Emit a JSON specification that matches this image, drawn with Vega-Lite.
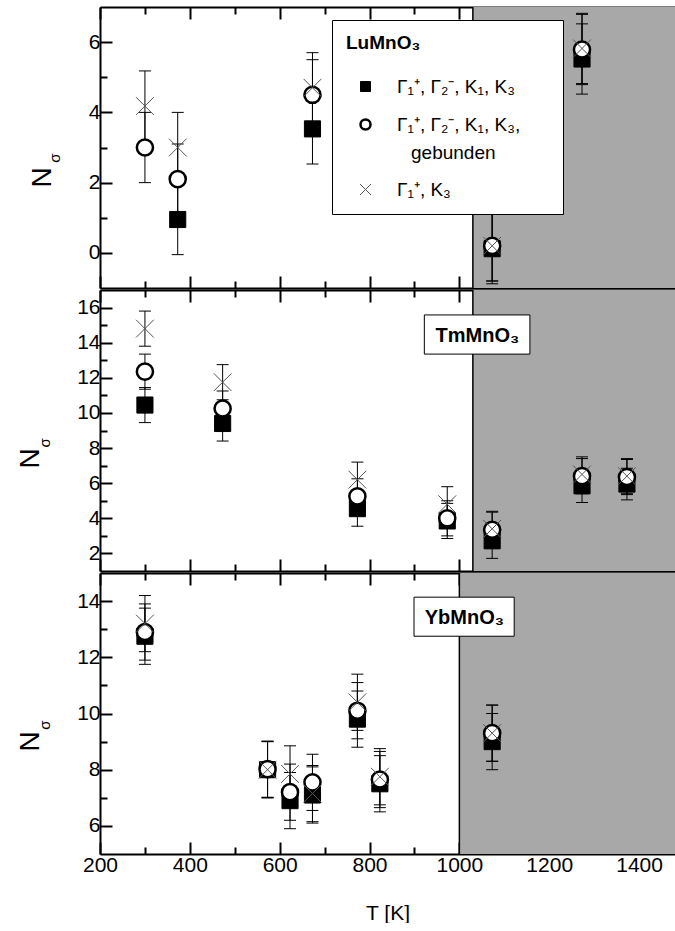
{
  "$schema": "https://vega.github.io/schema/vega-lite/v6.json",
  "padding": {"left": 16, "top": 6, "right": 0, "bottom": 0},
  "background": "white",
  "spacing": 0,
  "config": {
    "font": "Liberation Sans",
    "view": {"stroke": null},
    "concat": {"spacing": 0},
    "style": {"guide-label": {"lineHeight": 28}},
    "legend": {"titleFont": "Liberation Sans", "titleFontSize": 19, "titleFontWeight": "bold", "titleColor": "black", "labelFont": "Liberation Sans", "labelFontSize": 19, "labelColor": "black"},
    "axis": {"domainColor": "black", "domainWidth": 2, "tickColor": "black", "tickWidth": 2, "labelFont": "Liberation Sans", "labelFontSize": 21, "labelColor": "black", "labelPadding": 12, "titleFont": "Liberation Sans", "titleColor": "black", "titleFontWeight": "normal", "grid": false, "zindex": 1, "labelOverlap": false, "labelFlush": false}
  },
  "datasets": {
    "one": [{}],
    "lu": [
      {"T": 373, "s": "sq", "v": 0.95, "lo": -0.05, "hi": 1.95},
      {"T": 673, "s": "sq", "v": 3.53, "lo": 2.53, "hi": 4.53},
      {"T": 1073, "s": "sq", "v": 0.12, "lo": -0.88, "hi": 1.12},
      {"T": 1273, "s": "sq", "v": 5.52, "lo": 4.52, "hi": 6.52},
      {"T": 300, "s": "ci", "v": 3.0, "lo": 2.0, "hi": 4.0},
      {"T": 373, "s": "ci", "v": 2.1, "lo": 1.1, "hi": 3.1},
      {"T": 673, "s": "ci", "v": 4.5, "lo": 3.5, "hi": 5.5},
      {"T": 1073, "s": "ci", "v": 0.2, "lo": -0.8, "hi": 1.2},
      {"T": 1273, "s": "ci", "v": 5.79, "lo": 4.79, "hi": 6.79},
      {"T": 300, "s": "x", "v": 4.18, "lo": 3.18, "hi": 5.18},
      {"T": 373, "s": "x", "v": 3.0, "lo": 2.0, "hi": 4.0},
      {"T": 673, "s": "x", "v": 4.7, "lo": 3.7, "hi": 5.7},
      {"T": 1073, "s": "x", "v": 0.2, "lo": -0.8, "hi": 1.2},
      {"T": 1273, "s": "x", "v": 5.82, "lo": 4.82, "hi": 6.82}
    ],
    "tm": [
      {"T": 300, "s": "sq", "v": 10.45, "lo": 9.45, "hi": 11.45},
      {"T": 473, "s": "sq", "v": 9.4, "lo": 8.4, "hi": 10.4},
      {"T": 773, "s": "sq", "v": 4.55, "lo": 3.55, "hi": 5.55},
      {"T": 973, "s": "sq", "v": 3.85, "lo": 2.85, "hi": 4.85},
      {"T": 1073, "s": "sq", "v": 2.72, "lo": 1.72, "hi": 3.72},
      {"T": 1273, "s": "sq", "v": 5.85, "lo": 4.9, "hi": 6.8},
      {"T": 1373, "s": "sq", "v": 5.95, "lo": 5.05, "hi": 6.85},
      {"T": 300, "s": "ci", "v": 12.35, "lo": 11.35, "hi": 13.35},
      {"T": 473, "s": "ci", "v": 10.25, "lo": 9.25, "hi": 11.25},
      {"T": 773, "s": "ci", "v": 5.25, "lo": 4.25, "hi": 6.25},
      {"T": 973, "s": "ci", "v": 4.0, "lo": 3.0, "hi": 5.0},
      {"T": 1073, "s": "ci", "v": 3.35, "lo": 2.35, "hi": 4.35},
      {"T": 1273, "s": "ci", "v": 6.4, "lo": 5.4, "hi": 7.4},
      {"T": 1373, "s": "ci", "v": 6.35, "lo": 5.35, "hi": 7.35},
      {"T": 300, "s": "x", "v": 14.8, "lo": 13.8, "hi": 15.8},
      {"T": 473, "s": "x", "v": 11.75, "lo": 10.75, "hi": 12.75},
      {"T": 773, "s": "x", "v": 6.2, "lo": 5.2, "hi": 7.2},
      {"T": 973, "s": "x", "v": 4.8, "lo": 3.8, "hi": 5.8},
      {"T": 1073, "s": "x", "v": 3.4, "lo": 2.4, "hi": 4.4},
      {"T": 1273, "s": "x", "v": 6.5, "lo": 5.5, "hi": 7.5},
      {"T": 1373, "s": "x", "v": 6.4, "lo": 5.4, "hi": 7.4}
    ],
    "yb": [
      {"T": 300, "s": "sq", "v": 12.75, "lo": 11.75, "hi": 13.75},
      {"T": 573, "s": "sq", "v": 8.0, "lo": 7.0, "hi": 9.0},
      {"T": 623, "s": "sq", "v": 6.9, "lo": 5.9, "hi": 7.9},
      {"T": 673, "s": "sq", "v": 7.1, "lo": 6.1, "hi": 8.1},
      {"T": 773, "s": "sq", "v": 9.8, "lo": 8.8, "hi": 10.8},
      {"T": 823, "s": "sq", "v": 7.5, "lo": 6.5, "hi": 8.5},
      {"T": 1073, "s": "sq", "v": 9.0, "lo": 8.0, "hi": 10.0},
      {"T": 300, "s": "ci", "v": 12.9, "lo": 11.9, "hi": 13.9},
      {"T": 573, "s": "ci", "v": 8.02, "lo": 7.02, "hi": 9.02},
      {"T": 623, "s": "ci", "v": 7.2, "lo": 6.2, "hi": 8.2},
      {"T": 673, "s": "ci", "v": 7.55, "lo": 6.55, "hi": 8.55},
      {"T": 773, "s": "ci", "v": 10.1, "lo": 9.1, "hi": 11.1},
      {"T": 823, "s": "ci", "v": 7.65, "lo": 6.65, "hi": 8.65},
      {"T": 1073, "s": "ci", "v": 9.3, "lo": 8.3, "hi": 10.3},
      {"T": 300, "s": "x", "v": 13.2, "lo": 12.2, "hi": 14.2},
      {"T": 573, "s": "x", "v": 8.0, "lo": 7.0, "hi": 9.0},
      {"T": 623, "s": "x", "v": 7.85, "lo": 6.85, "hi": 8.85},
      {"T": 673, "s": "x", "v": 7.15, "lo": 6.15, "hi": 8.15},
      {"T": 773, "s": "x", "v": 10.4, "lo": 9.4, "hi": 11.4},
      {"T": 823, "s": "x", "v": 7.75, "lo": 6.75, "hi": 8.75},
      {"T": 1073, "s": "x", "v": 9.3, "lo": 8.3, "hi": 10.3}
    ]
  },
  "resolve": {"scale": {"shape": "independent", "fill": "independent", "stroke": "independent", "strokeWidth": "independent"}},
  "vconcat": [
    {
      "width": 575, "height": 281,
      "resolve": {"axis": {"x": "independent", "y": "independent"}},
      "layer": [
        {"data": {"name": "one"}, "mark": {"type": "rect", "fill": "#a8a8a8"},
         "encoding": {"x": {"datum": 1030, "type": "quantitative", "scale": {"domain": [200, 1480], "nice": false, "zero": false}, "axis": null}, "x2": {"datum": 1480}, "y": {"datum": -1, "type": "quantitative", "scale": {"domain": [-1, 7], "nice": false, "zero": false}, "axis": null}, "y2": {"datum": 7}}},
        {"data": {"name": "one"}, "mark": {"type": "rule", "color": "black", "strokeWidth": 1.5},
         "encoding": {"x": {"datum": 1030, "type": "quantitative", "scale": {"domain": [200, 1480], "nice": false, "zero": false}, "axis": null}}},
        {"data": {"name": "lu"}, "mark": {"type": "rule", "color": "black", "strokeWidth": 1},
         "encoding": {
           "x": {"field": "T", "type": "quantitative", "scale": {"domain": [200, 1480], "nice": false, "zero": false}, "axis": {"orient": "top", "values": [200, 300, 400, 500, 600, 700, 800, 900, 1000, 1100, 1200, 1300, 1400], "labels": false, "title": null, "tickSize": {"condition": {"test": "datum.value % 200 === 0", "value": -12}, "value": -7}}},
           "y": {"field": "lo", "type": "quantitative", "scale": {"domain": [-1, 7], "nice": false, "zero": false}, "axis": {"orient": "right", "domain": false, "values": [0, 1, 2, 3, 4, 5, 6], "labels": false, "title": null, "tickSize": {"condition": {"test": "datum.value % 2 === 0", "value": -12}, "value": -7}}},
           "y2": {"field": "hi"}}},
        {"data": {"name": "lu"}, "mark": {"type": "tick", "orient": "horizontal", "color": "black", "size": 12, "thickness": 1, "opacity": 1},
         "encoding": {"x": {"field": "T", "type": "quantitative", "scale": {"domain": [200, 1480], "nice": false, "zero": false}, "axis": null}, "y": {"field": "lo", "type": "quantitative", "scale": {"domain": [-1, 7], "nice": false, "zero": false}, "axis": null}}},
        {"data": {"name": "lu"}, "mark": {"type": "tick", "orient": "horizontal", "color": "black", "size": 12, "thickness": 1, "opacity": 1},
         "encoding": {"x": {"field": "T", "type": "quantitative", "scale": {"domain": [200, 1480], "nice": false, "zero": false}, "axis": null}, "y": {"field": "hi", "type": "quantitative", "scale": {"domain": [-1, 7], "nice": false, "zero": false}, "axis": null}}},
        {"data": {"name": "lu"}, "mark": {"type": "point", "size": 260, "opacity": 1},
         "encoding": {
           "x": {"field": "T", "type": "quantitative", "scale": {"domain": [200, 1480], "nice": false, "zero": false}, "axis": {"orient": "bottom", "values": [200, 300, 400, 500, 600, 700, 800, 900, 1000, 1100, 1200, 1300, 1400], "labels": false, "title": null, "tickSize": {"condition": {"test": "datum.value % 200 === 0", "value": -12}, "value": -7}}},
           "y": {"field": "v", "type": "quantitative", "scale": {"domain": [-1, 7], "nice": false, "zero": false}, "axis": {"orient": "left", "values": [0, 1, 2, 3, 4, 5, 6], "format": "d", "labelExpr": "datum.value % 2 === 0 ? datum.label : ''", "title": "N", "titleFontSize": 28, "titlePadding": 32, "titleY": 170, "tickSize": {"condition": {"test": "datum.value % 2 === 0", "value": -12}, "value": -7}}},
           "shape": {"field": "s", "type": "nominal", "scale": {"domain": ["sq", "ci", "x"], "range": ["square", "circle", "M-1.1,-1.1L1.1,1.1M-1.1,1.1L1.1,-1.1"]},
             "legend": {"title": "LuMnO₃", "orient": "none", "legendX": 232, "legendY": 13, "titleFont": "Liberation Sans", "titleFontSize": 19, "titleFontWeight": "bold", "titleColor": "black", "titlePadding": 24, "labelFont": "Liberation Sans", "labelFontSize": 19, "labelColor": "black", "labelLimit": 400, "labelExpr": "datum.value === 'sq' ? 'Γ₁⁺, Γ₂⁻, K₁, K₃' : datum.value === 'ci' ? ['Γ₁⁺, Γ₂⁻, K₁, K₃,\u2800\u2800', '\u2800gebunden'] : 'Γ₁⁺, K₃'", "fillColor": "white", "strokeColor": "black", "padding": 14, "symbolSize": 100, "symbolOffset": 10, "labelOffset": 22, "rowPadding": 17, "cornerRadius": 0}},
           "fill": {"field": "s", "type": "nominal", "scale": {"domain": ["sq", "ci", "x"], "range": ["black", "white", "transparent"]}},
           "stroke": {"field": "s", "type": "nominal", "scale": {"domain": ["sq", "ci", "x"], "range": ["black", "black", "#555555"]}},
           "strokeWidth": {"field": "s", "type": "nominal", "scale": {"type": "ordinal", "domain": ["sq", "ci", "x"], "range": [1, 2.5, 1]}}}},
        {"data": {"name": "one"}, "mark": {"type": "text", "text": "σ", "angle": 270, "fontSize": 15, "font": "Liberation Sans", "color": "black", "align": "center", "baseline": "middle"},
         "encoding": {"x": {"datum": 99.8, "type": "quantitative", "scale": {"domain": [200, 1480], "nice": false, "zero": false}, "axis": null}, "y": {"datum": 2.7, "type": "quantitative", "scale": {"domain": [-1, 7], "nice": false, "zero": false}, "axis": null}}}
      ]
    },
    {
      "width": 575, "height": 281,
      "resolve": {"axis": {"x": "independent", "y": "independent"}},
      "layer": [
        {"data": {"name": "one"}, "mark": {"type": "rect", "fill": "#a8a8a8"},
         "encoding": {"x": {"datum": 1030, "type": "quantitative", "scale": {"domain": [200, 1480], "nice": false, "zero": false}, "axis": null}, "x2": {"datum": 1480}, "y": {"datum": 1, "type": "quantitative", "scale": {"domain": [1, 17], "nice": false, "zero": false}, "axis": null}, "y2": {"datum": 17}}},
        {"data": {"name": "one"}, "mark": {"type": "rule", "color": "black", "strokeWidth": 1.5},
         "encoding": {"x": {"datum": 1030, "type": "quantitative", "scale": {"domain": [200, 1480], "nice": false, "zero": false}, "axis": null}}},
        {"data": {"name": "tm"}, "mark": {"type": "rule", "color": "black", "strokeWidth": 1},
         "encoding": {
           "x": {"field": "T", "type": "quantitative", "scale": {"domain": [200, 1480], "nice": false, "zero": false}, "axis": {"orient": "top", "values": [200, 300, 400, 500, 600, 700, 800, 900, 1000, 1100, 1200, 1300, 1400], "labels": false, "title": null, "tickSize": {"condition": {"test": "datum.value % 200 === 0", "value": -12}, "value": -7}}},
           "y": {"field": "lo", "type": "quantitative", "scale": {"domain": [1, 17], "nice": false, "zero": false}, "axis": {"orient": "right", "domain": false, "values": [2, 3, 4, 5, 6, 7, 8, 9, 10, 11, 12, 13, 14, 15, 16], "labels": false, "title": null, "tickSize": {"condition": {"test": "datum.value % 2 === 0", "value": -12}, "value": -7}}},
           "y2": {"field": "hi"}}},
        {"data": {"name": "tm"}, "mark": {"type": "tick", "orient": "horizontal", "color": "black", "size": 12, "thickness": 1, "opacity": 1},
         "encoding": {"x": {"field": "T", "type": "quantitative", "scale": {"domain": [200, 1480], "nice": false, "zero": false}, "axis": null}, "y": {"field": "lo", "type": "quantitative", "scale": {"domain": [1, 17], "nice": false, "zero": false}, "axis": null}}},
        {"data": {"name": "tm"}, "mark": {"type": "tick", "orient": "horizontal", "color": "black", "size": 12, "thickness": 1, "opacity": 1},
         "encoding": {"x": {"field": "T", "type": "quantitative", "scale": {"domain": [200, 1480], "nice": false, "zero": false}, "axis": null}, "y": {"field": "hi", "type": "quantitative", "scale": {"domain": [1, 17], "nice": false, "zero": false}, "axis": null}}},
        {"data": {"name": "tm"}, "mark": {"type": "point", "size": 260, "opacity": 1},
         "encoding": {
           "x": {"field": "T", "type": "quantitative", "scale": {"domain": [200, 1480], "nice": false, "zero": false}, "axis": {"orient": "bottom", "values": [200, 300, 400, 500, 600, 700, 800, 900, 1000, 1100, 1200, 1300, 1400], "labels": false, "title": null, "tickSize": {"condition": {"test": "datum.value % 200 === 0", "value": -12}, "value": -7}}},
           "y": {"field": "v", "type": "quantitative", "scale": {"domain": [1, 17], "nice": false, "zero": false}, "axis": {"orient": "left", "values": [2, 3, 4, 5, 6, 7, 8, 9, 10, 11, 12, 13, 14, 15, 16], "format": "d", "labelExpr": "datum.value % 2 === 0 ? datum.label : ''", "title": "N", "titleFontSize": 28, "titlePadding": 32, "titleY": 168, "tickSize": {"condition": {"test": "datum.value % 2 === 0", "value": -12}, "value": -7}}},
           "shape": {"field": "s", "type": "nominal", "scale": {"domain": ["sq", "ci", "x"], "range": ["square", "circle", "M-1.1,-1.1L1.1,1.1M-1.1,1.1L1.1,-1.1"]}, "legend": null},
           "fill": {"field": "s", "type": "nominal", "scale": {"domain": ["sq", "ci", "x"], "range": ["black", "white", "transparent"]}, "legend": null},
           "stroke": {"field": "s", "type": "nominal", "scale": {"domain": ["sq", "ci", "x"], "range": ["black", "black", "#555555"]}, "legend": null},
           "strokeWidth": {"field": "s", "type": "nominal", "scale": {"type": "ordinal", "domain": ["sq", "ci", "x"], "range": [1, 2.5, 1]}, "legend": null}}},
        {"data": {"name": "one"}, "mark": {"type": "text", "text": "σ", "angle": 270, "fontSize": 15, "font": "Liberation Sans", "color": "black", "align": "center", "baseline": "middle"},
         "encoding": {"x": {"datum": 77.6, "type": "quantitative", "scale": {"domain": [200, 1480], "nice": false, "zero": false}, "axis": null}, "y": {"datum": 8.29, "type": "quantitative", "scale": {"domain": [1, 17], "nice": false, "zero": false}, "axis": null}}},
        {"data": {"name": "one"}, "mark": {"type": "rect", "fill": "white", "stroke": "black", "strokeWidth": 1},
         "encoding": {"x": {"datum": 922, "type": "quantitative", "scale": {"domain": [200, 1480], "nice": false, "zero": false}, "axis": null}, "x2": {"datum": 1157}, "y": {"datum": 15.58, "type": "quantitative", "scale": {"domain": [1, 17], "nice": false, "zero": false}, "axis": null}, "y2": {"datum": 13.35}}},
        {"data": {"name": "one"}, "mark": {"type": "text", "text": "TmMnO₃", "fontSize": 20, "fontWeight": "bold", "font": "Liberation Sans", "color": "black", "align": "center", "baseline": "middle"},
         "encoding": {"x": {"datum": 1040, "type": "quantitative", "scale": {"domain": [200, 1480], "nice": false, "zero": false}, "axis": null}, "y": {"datum": 14.4, "type": "quantitative", "scale": {"domain": [1, 17], "nice": false, "zero": false}, "axis": null}}}
      ]
    },
    {
      "width": 575, "height": 281,
      "resolve": {"axis": {"x": "independent", "y": "independent"}},
      "layer": [
        {"data": {"name": "one"}, "mark": {"type": "rect", "fill": "#a8a8a8"},
         "encoding": {"x": {"datum": 1000, "type": "quantitative", "scale": {"domain": [200, 1480], "nice": false, "zero": false}, "axis": null}, "x2": {"datum": 1480}, "y": {"datum": 5, "type": "quantitative", "scale": {"domain": [5, 15], "nice": false, "zero": false}, "axis": null}, "y2": {"datum": 15}}},
        {"data": {"name": "one"}, "mark": {"type": "rule", "color": "black", "strokeWidth": 1.5},
         "encoding": {"x": {"datum": 1000, "type": "quantitative", "scale": {"domain": [200, 1480], "nice": false, "zero": false}, "axis": null}}},
        {"data": {"name": "yb"}, "mark": {"type": "rule", "color": "black", "strokeWidth": 1},
         "encoding": {
           "x": {"field": "T", "type": "quantitative", "scale": {"domain": [200, 1480], "nice": false, "zero": false}, "axis": {"orient": "top", "values": [200, 300, 400, 500, 600, 700, 800, 900, 1000, 1100, 1200, 1300, 1400], "labels": false, "title": null, "tickSize": {"condition": {"test": "datum.value % 200 === 0", "value": -12}, "value": -7}}},
           "y": {"field": "lo", "type": "quantitative", "scale": {"domain": [5, 15], "nice": false, "zero": false}, "axis": {"orient": "right", "domain": false, "values": [6, 7, 8, 9, 10, 11, 12, 13, 14], "labels": false, "title": null, "tickSize": {"condition": {"test": "datum.value % 2 === 0", "value": -12}, "value": -7}}},
           "y2": {"field": "hi"}}},
        {"data": {"name": "yb"}, "mark": {"type": "tick", "orient": "horizontal", "color": "black", "size": 12, "thickness": 1, "opacity": 1},
         "encoding": {"x": {"field": "T", "type": "quantitative", "scale": {"domain": [200, 1480], "nice": false, "zero": false}, "axis": null}, "y": {"field": "lo", "type": "quantitative", "scale": {"domain": [5, 15], "nice": false, "zero": false}, "axis": null}}},
        {"data": {"name": "yb"}, "mark": {"type": "tick", "orient": "horizontal", "color": "black", "size": 12, "thickness": 1, "opacity": 1},
         "encoding": {"x": {"field": "T", "type": "quantitative", "scale": {"domain": [200, 1480], "nice": false, "zero": false}, "axis": null}, "y": {"field": "hi", "type": "quantitative", "scale": {"domain": [5, 15], "nice": false, "zero": false}, "axis": null}}},
        {"data": {"name": "yb"}, "mark": {"type": "point", "size": 260, "opacity": 1},
         "encoding": {
           "x": {"field": "T", "type": "quantitative", "scale": {"domain": [200, 1480], "nice": false, "zero": false}, "axis": {"orient": "bottom", "values": [200, 300, 400, 500, 600, 700, 800, 900, 1000, 1100, 1200, 1300, 1400], "format": "d", "labelExpr": "datum.value % 200 === 0 ? datum.label : ''", "title": "T [K]", "titleFontSize": 21, "titlePadding": 22, "tickSize": {"condition": {"test": "datum.value % 200 === 0", "value": -12}, "value": -7}}},
           "y": {"field": "v", "type": "quantitative", "scale": {"domain": [5, 15], "nice": false, "zero": false}, "axis": {"orient": "left", "values": [6, 7, 8, 9, 10, 11, 12, 13, 14], "format": "d", "labelExpr": "datum.value % 2 === 0 ? datum.label : ''", "title": "N", "titleFontSize": 28, "titlePadding": 32, "titleY": 168, "tickSize": {"condition": {"test": "datum.value % 2 === 0", "value": -12}, "value": -7}}},
           "shape": {"field": "s", "type": "nominal", "scale": {"domain": ["sq", "ci", "x"], "range": ["square", "circle", "M-1.1,-1.1L1.1,1.1M-1.1,1.1L1.1,-1.1"]}, "legend": null},
           "fill": {"field": "s", "type": "nominal", "scale": {"domain": ["sq", "ci", "x"], "range": ["black", "white", "transparent"]}, "legend": null},
           "stroke": {"field": "s", "type": "nominal", "scale": {"domain": ["sq", "ci", "x"], "range": ["black", "black", "#555555"]}, "legend": null},
           "strokeWidth": {"field": "s", "type": "nominal", "scale": {"type": "ordinal", "domain": ["sq", "ci", "x"], "range": [1, 2.5, 1]}, "legend": null}}},
        {"data": {"name": "one"}, "mark": {"type": "text", "text": "σ", "angle": 270, "fontSize": 15, "font": "Liberation Sans", "color": "black", "align": "center", "baseline": "middle"},
         "encoding": {"x": {"datum": 77.6, "type": "quantitative", "scale": {"domain": [200, 1480], "nice": false, "zero": false}, "axis": null}, "y": {"datum": 9.59, "type": "quantitative", "scale": {"domain": [5, 15], "nice": false, "zero": false}, "axis": null}}},
        {"data": {"name": "one"}, "mark": {"type": "rect", "fill": "white", "stroke": "black", "strokeWidth": 1},
         "encoding": {"x": {"datum": 899, "type": "quantitative", "scale": {"domain": [200, 1480], "nice": false, "zero": false}, "axis": null}, "x2": {"datum": 1122}, "y": {"datum": 14.14, "type": "quantitative", "scale": {"domain": [5, 15], "nice": false, "zero": false}, "axis": null}, "y2": {"datum": 12.75}}},
        {"data": {"name": "one"}, "mark": {"type": "text", "text": "YbMnO₃", "fontSize": 20, "fontWeight": "bold", "font": "Liberation Sans", "color": "black", "align": "center", "baseline": "middle"},
         "encoding": {"x": {"datum": 1011, "type": "quantitative", "scale": {"domain": [200, 1480], "nice": false, "zero": false}, "axis": null}, "y": {"datum": 13.4, "type": "quantitative", "scale": {"domain": [5, 15], "nice": false, "zero": false}, "axis": null}}}
      ]
    }
  ]
}
